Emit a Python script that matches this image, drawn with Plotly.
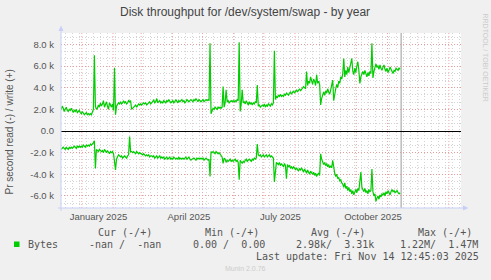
import plotly.graph_objects as go
import pandas as pd

# ---------------- data (k units, one value per day) ----------------
START = "2024-12-11 12:00"

WRITE_K = [
    2.0, 2.3, 2.1, 1.8, 2.0, 2.2, 1.9, 1.8, 2.0, 1.9,
    2.1, 1.8, 1.7, 1.9, 1.8, 2.0, 1.7, 1.8, 1.9, 1.7,
    1.6, 1.8, 1.7, 1.5, 1.6, 1.7, 1.5, 1.6, 1.5, 1.6,
    1.5, 1.7, 2.0, 7.0, 2.3, 2.0, 2.1, 2.4, 2.2, 2.6,
    2.3, 2.5, 2.8, 2.2, 2.5, 2.7, 2.3, 2.0, 2.6, 2.4,
    2.2, 2.5, 1.9, 5.85, 1.5, 2.3, 2.4, 2.6, 2.5, 2.7,
    2.5, 2.6, 2.8, 2.6, 2.7, 2.5, 2.6, 2.8, 2.7, 2.8,
    2.0, 2.1, 2.2, 2.3, 2.4, 2.2, 2.3, 2.5, 2.4, 2.5,
    2.4, 2.5, 2.6, 2.5, 2.6, 2.4, 2.5, 2.6, 2.7, 2.5,
    2.6, 2.7, 2.9, 2.6, 2.7, 3.0, 2.6, 2.7, 2.8, 2.6,
    2.7, 2.6, 2.8, 2.7, 2.6, 2.8, 2.7, 2.9, 2.7, 2.6,
    2.7, 2.8, 2.6, 2.7, 2.9, 2.7, 2.6, 2.8, 2.7, 2.8,
    2.9, 2.7, 2.8, 2.6, 2.7, 2.9, 2.8, 2.7, 2.8, 2.9,
    2.8, 2.7, 2.9, 2.8, 3.0, 2.8, 2.7, 2.9, 2.8, 2.7,
    2.8, 2.9, 2.7, 2.8, 2.9, 2.8, 2.9, 2.8, 8.1, 1.6,
    2.0, 2.1, 2.0, 2.2, 2.1, 2.0, 2.2, 2.1, 2.2, 2.1,
    2.2, 4.1, 2.2, 2.6, 3.8, 2.7, 2.8, 2.6, 2.7, 2.8,
    2.7, 2.8, 2.7, 2.8, 2.7, 2.9, 2.8, 8.2, 1.8, 2.5,
    3.8, 2.6, 2.7, 2.5, 2.8, 2.6, 2.4, 2.7, 2.5, 2.6,
    2.4, 2.6, 2.5, 2.7, 2.6, 4.25, 2.3, 2.4, 2.2, 2.3,
    2.4, 2.3, 2.5, 2.2, 2.4, 2.3, 2.5, 2.4, 2.3, 2.5,
    2.4, 2.6, 7.4, 2.9, 3.2, 3.1, 3.3, 3.2, 3.4, 3.2,
    3.3, 3.2, 3.4, 3.3, 3.5, 3.4, 3.3, 3.5, 3.6, 3.4,
    3.5, 3.7, 3.5, 3.6, 3.8, 3.6, 3.7, 3.9, 3.7, 3.8,
    4.0, 4.1, 4.0, 3.9, 5.5, 4.2, 4.6, 4.4, 5.0, 4.5,
    4.3, 4.8, 4.6, 4.2, 5.2, 4.4, 4.6, 4.3, 2.4, 3.0,
    3.4, 3.6, 3.3, 3.7, 3.5, 3.9, 3.6, 3.4, 3.8, 4.2,
    4.7, 2.8, 3.5, 3.9, 4.3, 4.0, 4.6, 4.4, 5.0, 4.8,
    5.3, 6.7, 5.0, 5.6, 5.2, 5.9, 5.4, 5.8, 6.0, 6.7,
    5.5, 5.2, 5.8, 5.4, 6.0, 6.4, 5.6, 4.4, 5.0, 5.3,
    5.5, 5.2, 5.6, 5.3, 5.0, 5.4, 5.1, 5.5, 5.3, 8.1,
    4.9, 5.5, 5.8, 6.2, 5.9, 6.0, 5.7, 6.1, 5.8, 5.6,
    5.9, 6.1, 5.7, 5.5, 5.8, 5.4, 5.6, 5.9, 5.7, 5.5,
    5.3, 5.6, 5.5, 5.8, 5.7, 5.6, 5.8, 5.7,
]

READ_K = [
    -1.7, -1.6, -1.5, -1.6, -1.7, -1.5, -1.6, -1.7, -1.5, -1.6,
    -1.5, -1.6, -1.5, -1.4, -1.5, -1.6, -1.4, -1.5, -1.4, -1.5,
    -1.4, -1.5, -1.3, -1.4, -1.5, -1.3, -1.4, -1.3, -1.4, -1.2,
    -1.3, -1.2, -1.1, -0.9, -3.45, -1.7, -1.8, -1.9, -1.7, -1.8,
    -1.9, -1.8, -2.0, -1.7, -1.9, -2.0, -1.8, -1.9, -2.1, -1.9,
    -2.0, -1.9, -2.1, -2.8, -3.6, -2.6, -2.4, -2.2, -2.3, -2.4,
    -2.3, -2.5, -2.4, -2.3, -2.4, -2.5, -2.3, -2.2, -0.5, -1.9,
    -1.9, -2.0, -1.9, -2.0, -2.1, -1.9, -2.0, -2.1, -2.0, -2.1,
    -2.1, -2.2, -2.1, -2.2, -2.3, -2.2, -2.3, -2.2, -2.4, -2.3,
    -2.3, -2.4, -2.3, -2.5, -2.4, -2.3, -2.5, -2.4, -2.3, -2.5,
    -2.4, -2.5, -2.4, -2.6, -2.5, -2.4, -2.6, -2.5, -2.4, -2.6,
    -2.5, -2.6, -2.4, -2.5, -2.6, -2.5, -2.6, -2.4, -2.6, -2.5,
    -2.6, -2.5, -2.6, -2.5, -2.4, -2.6, -2.5, -2.4, -2.6, -2.7,
    -2.6, -2.5, -2.5, -2.6, -2.7, -2.5, -2.6, -2.5, -2.6, -2.5,
    -2.6, -2.5, -2.7, -2.6, -2.5, -2.6, -2.7, -2.6, -4.2, -1.9,
    -2.0, -1.9, -2.0, -2.1, -1.9, -2.0, -2.1, -2.0, -2.1, -2.2,
    -2.4, -3.0, -2.5, -2.6, -2.9, -2.7, -2.8, -2.7, -2.6, -2.8,
    -2.7, -2.8, -2.7, -2.6, -2.8, -2.7, -2.9, -4.5, -2.7, -2.8,
    -3.0, -2.8, -2.9, -2.7, -2.6, -2.8, -2.7, -2.6, -2.7, -2.8,
    -2.6, -2.7, -2.5, -2.6, -2.5, -1.2, -2.2, -2.3, -2.2, -2.4,
    -2.3, -2.2, -2.4, -2.3, -2.2, -2.4, -2.3, -2.2, -2.4, -2.3,
    -2.4, -2.5, -4.7, -3.3, -2.9, -3.0, -3.1, -2.9, -3.2, -3.0,
    -3.1, -3.3, -3.0, -3.2, -4.4, -3.1, -3.3, -3.2, -3.4, -3.3,
    -3.5, -3.3, -3.4, -3.6, -3.4, -3.5, -3.7, -3.5, -3.6, -3.4,
    -3.6, -3.8, -3.5, -3.7, -3.9, -3.6, -3.8, -4.0, -3.7, -3.9,
    -4.0, -3.8, -4.1, -3.9, -4.2, -4.0, -3.9, -4.1, -2.1, -2.6,
    -2.8, -3.1, -2.9, -3.2, -3.0, -3.3, -3.1, -3.4, -3.2, -3.4,
    -2.7, -3.5, -3.9, -4.2, -4.0, -4.4, -4.3, -4.6, -4.5, -4.8,
    -4.9, -5.2, -4.8, -5.3, -5.1, -5.5, -5.2, -5.6, -5.4, -5.8,
    -5.5, -5.9, -5.6, -5.4, -5.7, -5.3, -5.5, -4.6, -3.8, -5.2,
    -5.4, -5.6, -5.3, -5.7, -5.5, -5.8, -5.4, -5.6, -5.5, -3.5,
    -5.6, -6.0, -5.8, -6.5, -6.2, -6.0, -6.3, -5.9, -6.1, -5.8,
    -5.9, -5.7, -6.0, -5.6, -5.8, -5.5, -5.7, -5.9, -5.6, -5.4,
    -5.6, -5.5, -5.7, -5.6, -5.5, -5.7, -5.8, -5.7,
]

Y_TICKS = [-6, -4, -2, 0, 2, 4, 6, 8]
Y_TICK_TEXT = ["-6.0 k", "-4.0 k", "-2.0 k", "0.0", "2.0 k", "4.0 k", "6.0 k", "8.0 k"]
Y_RANGE = [-7.11, 9.05]

X_RANGE = ["2024-12-11 07:00", "2026-01-13 02:00"]
MONTH_STARTS = ["2025-01-01", "2025-02-01", "2025-03-01", "2025-04-01", "2025-05-01",
                "2025-06-01", "2025-07-01", "2025-08-01", "2025-09-01", "2025-10-01",
                "2025-11-01", "2025-12-01", "2026-01-01"]
LABEL_DATES = ["2025-01-17 12:00", "2025-04-17 12:00", "2025-07-17 12:00", "2025-10-17 12:00"]
LABEL_TEXT = ["January 2025", "April 2025", "July 2025", "October 2025"]
NOW = "2025-11-14 12:45:03"

TITLE = "Disk throughput for /dev/system/swap - by year"
Y_TITLE = "Pr second read (-) / write (+)"
LEG_HEAD = ["Cur (-/+)", "Min (-/+)", "Avg (-/+)", "Max (-/+)"]
LEG_NAME = "Bytes"
LEG_VALS = ["-nan /  -nan", "0.00 /  0.00", "2.98k/  3.31k", "1.22M/  1.47M"]
LAST_UPDATE = "Last update: Fri Nov 14 12:45:03 2025"
MUNIN = "Munin 2.0.76"
RRD = "RRDTOOL / TOBI OETIKER"

# ---------------- layout geometry ----------------
W, H = 491, 280
L, R, T, B = 61, 461, 33, 208
PW, PH = R - L, B - T


def px(x, y):
    return (x - L) / PW, (B - y) / PH


n = min(len(WRITE_K), len(READ_K))
dates = pd.date_range(START, periods=n, freq="D")

GREEN = "#00CC00"
TXT = "#555555"
AXIS = "#C8CFF6"
MINOR = "#D4D4D4"
MAJOR = "rgba(235,140,140,0.8)"

fig = go.Figure()
fig.add_trace(go.Scatter(x=dates, y=WRITE_K[:n], mode="lines",
                         line=dict(color=GREEN, width=1.2), hoverinfo="skip"))
fig.add_trace(go.Scatter(x=dates, y=READ_K[:n], mode="lines",
                         line=dict(color=GREEN, width=1.2), hoverinfo="skip"))

grid_dash = "1px,2px"
fig.update_layout(
    width=W, height=H, showlegend=False,
    margin=dict(l=L, r=W - R, t=T, b=H - B, pad=0),
    paper_bgcolor="#F0F0F0", plot_bgcolor="#FFFFFF",
    xaxis=dict(type="date", range=X_RANGE, tickvals=LABEL_DATES, ticktext=LABEL_TEXT,
               showgrid=False, zeroline=False, showline=False, ticks="",
               tickfont=dict(family="Liberation Sans", size=9.5, color=TXT),
               ticklabelstandoff=1,
               minor=dict(dtick=7 * 86400000, tick0="2024-12-09", showgrid=True,
                          gridcolor=MINOR, griddash=grid_dash, gridwidth=1)),
    yaxis=dict(range=Y_RANGE, tickvals=Y_TICKS, ticktext=Y_TICK_TEXT,
               showgrid=True, gridcolor=MAJOR, griddash=grid_dash, gridwidth=1,
               zeroline=True, zerolinecolor="#000000", zerolinewidth=1,
               showline=False, ticks="", ticklabelstandoff=6,
               tickfont=dict(family="Liberation Sans", size=9.5, color=TXT),
               minor=dict(dtick=2 / 3, tick0=0, showgrid=True,
                          gridcolor=MINOR, griddash=grid_dash, gridwidth=1)),
)

shapes = []
for m in MONTH_STARTS:
    shapes.append(dict(type="line", xref="x", yref="paper", x0=m, x1=m, y0=0, y1=1,
                       line=dict(color=MAJOR, width=1, dash=grid_dash),
                       layer="between"))
shapes.append(dict(type="line", xref="x", yref="paper", x0=NOW, x1=NOW, y0=0, y1=1,
                   line=dict(color="#999999", width=1), layer="between"))
# axes with arrows
x0, y0 = px(61, 211)
x1, y1 = px(61, 29)
shapes.append(dict(type="line", xref="paper", yref="paper", x0=x0, x1=x1, y0=y0, y1=y1,
                   line=dict(color=AXIS, width=1)))
x0, y0 = px(58, 208)
x1, y1 = px(464, 208)
shapes.append(dict(type="line", xref="paper", yref="paper", x0=x0, x1=x1, y0=y0, y1=y1,
                   line=dict(color=AXIS, width=1)))
a = px(61, 25.5); b = px(58.5, 31); c = px(63.5, 31)
shapes.append(dict(type="path", xref="paper", yref="paper",
                   path=f"M {a[0]} {a[1]} L {b[0]} {b[1]} L {c[0]} {c[1]} Z",
                   fillcolor=AXIS, line=dict(width=0)))
a = px(468.5, 208); b = px(463, 205.5); c = px(463, 210.5)
shapes.append(dict(type="path", xref="paper", yref="paper",
                   path=f"M {a[0]} {a[1]} L {b[0]} {b[1]} L {c[0]} {c[1]} Z",
                   fillcolor=AXIS, line=dict(width=0)))
# legend square
a = px(14, 247); b = px(19.5, 241.5)
shapes.append(dict(type="rect", xref="paper", yref="paper", x0=a[0], y0=a[1], x1=b[0], y1=b[1],
                   fillcolor=GREEN, line=dict(width=0)))
fig.update_layout(shapes=shapes)

ann = []


def text(x, y, s, size, family, color=TXT, xanchor="left", angle=0):
    p = px(x, y)
    ann.append(dict(x=p[0], y=p[1], xref="paper", yref="paper", text=s, showarrow=False,
                    xanchor=xanchor, yanchor="middle", textangle=angle, borderpad=0,
                    font=dict(family=family, size=size, color=color)))


MONO = "DejaVu Sans Mono"
text(245, 12, TITLE, 12, "Liberation Sans", color="#444444", xanchor="center")
text(9, 132.5, Y_TITLE, 10, "Liberation Sans", xanchor="center", angle=-90)
text(485, 57.5, RRD, 7, "Liberation Sans", color="#CCCCCC", xanchor="center", angle=90)
for s, x in zip(LEG_HEAD, [97.3, 204, 310, 416.7]):
    text(x, 232.7, s, 10, MONO)
text(26.7, 244.3, LEG_NAME, 10, MONO)
for s, x in zip(LEG_VALS, [88.3, 192.3, 295, 399]):
    text(x, 244.3, s, 10, MONO)
text(255, 256.7, LAST_UPDATE, 10, MONO)
text(245, 268.3, MUNIN, 7, "Liberation Sans", color="#CCCCCC", xanchor="center")
fig.update_layout(annotations=ann)

fig.write_html("out.html")
